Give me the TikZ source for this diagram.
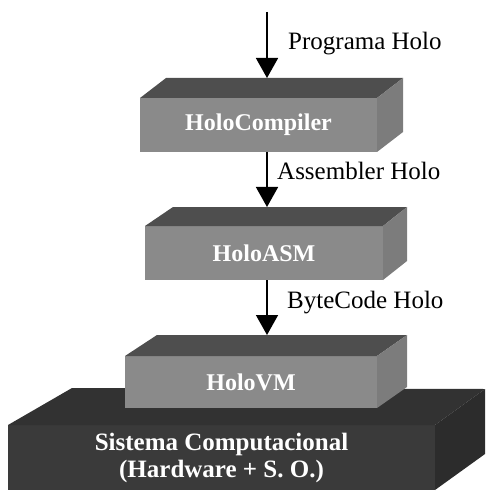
\documentclass[tikz,border=0pt]{standalone}
\usepackage{fontspec}
\setmainfont{Liberation Serif}
\usetikzlibrary{arrows.meta,calc}
\definecolor{faceFront}{HTML}{8A8A8A}
\definecolor{faceTop}{HTML}{4E4E4E}
\definecolor{faceSide}{HTML}{7C7C7C}
\definecolor{baseFront}{HTML}{3A3A3A}
\definecolor{baseTop}{HTML}{323232}
\definecolor{baseSide}{HTML}{2C2C2C}
\begin{document}
\begin{tikzpicture}[x=1bp,y=-1bp,
  front/.style={anchor=north west, inner sep=0pt, outer sep=0pt, text=white,
    fill=faceFront, font=\fontsize{24bp}{28bp}\selectfont\bfseries, align=center},
  flow/.style={line width=1.6bp, -{Triangle[width=22bp,length=20bp]}},
  flowlabel/.style={anchor=base west, inner sep=0pt, font=\fontsize{25bp}{29bp}\selectfont}]
\useasboundingbox (0,0) rectangle (487,491);

% base layer: the computer system
\node[front, fill=baseFront, minimum width=427bp, minimum height=65bp,
  font=\fontsize{25bp}{27bp}\selectfont\bfseries] (base) at (8,425)
  {Sistema Computacional\\(Hardware + S. O.)};
\fill[baseTop] (base.north west) -- ++(64,-37) -- ($(base.north east)+(50,-36)$)
  -- (base.north east) -- cycle;
\fill[baseSide] (base.north east) -- ++(50,-36) -- ($(base.south east)+(50,-36)$)
  -- (base.south east) -- cycle;

% HoloCompiler block
\node[front, minimum width=237bp, minimum height=54bp] (c1) at (140,98) {HoloCompiler};
\fill[faceTop] (c1.north west) -- ++(26,-20) -- ($(c1.north east)+(26,-20)$)
  -- (c1.north east) -- cycle;
\fill[faceSide] (c1.north east) -- ++(26,-20) -- ($(c1.south east)+(26,-20)$)
  -- (c1.south east) -- cycle;
\coordinate (c1top) at ($(c1.north)+(26,-20)$);

% HoloASM block
\node[front, minimum width=238bp, minimum height=54bp] (c2) at (145,226) {HoloASM};
\fill[faceTop] (c2.north west) -- ++(28,-19) -- ($(c2.north east)+(24,-19)$)
  -- (c2.north east) -- cycle;
\fill[faceSide] (c2.north east) -- ++(24,-19) -- ($(c2.south east)+(24,-19)$)
  -- (c2.south east) -- cycle;
\coordinate (c2top) at ($(c2.north)+(26,-19)$);

% HoloVM block, resting on the base
\node[front, minimum width=252bp, minimum height=52bp] (c3) at (125,356) {HoloVM};
\fill[faceTop] (c3.north west) -- ++(32,-21) -- ($(c3.north east)+(30,-21)$)
  -- (c3.north east) -- cycle;
\fill[faceSide] (c3.north east) -- ++(30,-21) -- ($(c3.south east)+(30,-21)$)
  -- (c3.south east) -- cycle;
\coordinate (c3top) at ($(c3.north)+(30,-21)$);

% data flow between the layers
\coordinate (src) at (267,12);
\draw[flow] (src) -- (src |- c1top);
\draw[flow] (src |- c1.south) -- (src |- c2top);
\draw[flow] (src |- c2.south) -- (src |- c3top);

\node[flowlabel] (l1) at (288,50) {Programa Holo};
\node[flowlabel] (l2) at (277,180) {Assembler Holo};
\node[flowlabel] (l3) at (287,308) {ByteCode Holo};
\end{tikzpicture}
\end{document}
